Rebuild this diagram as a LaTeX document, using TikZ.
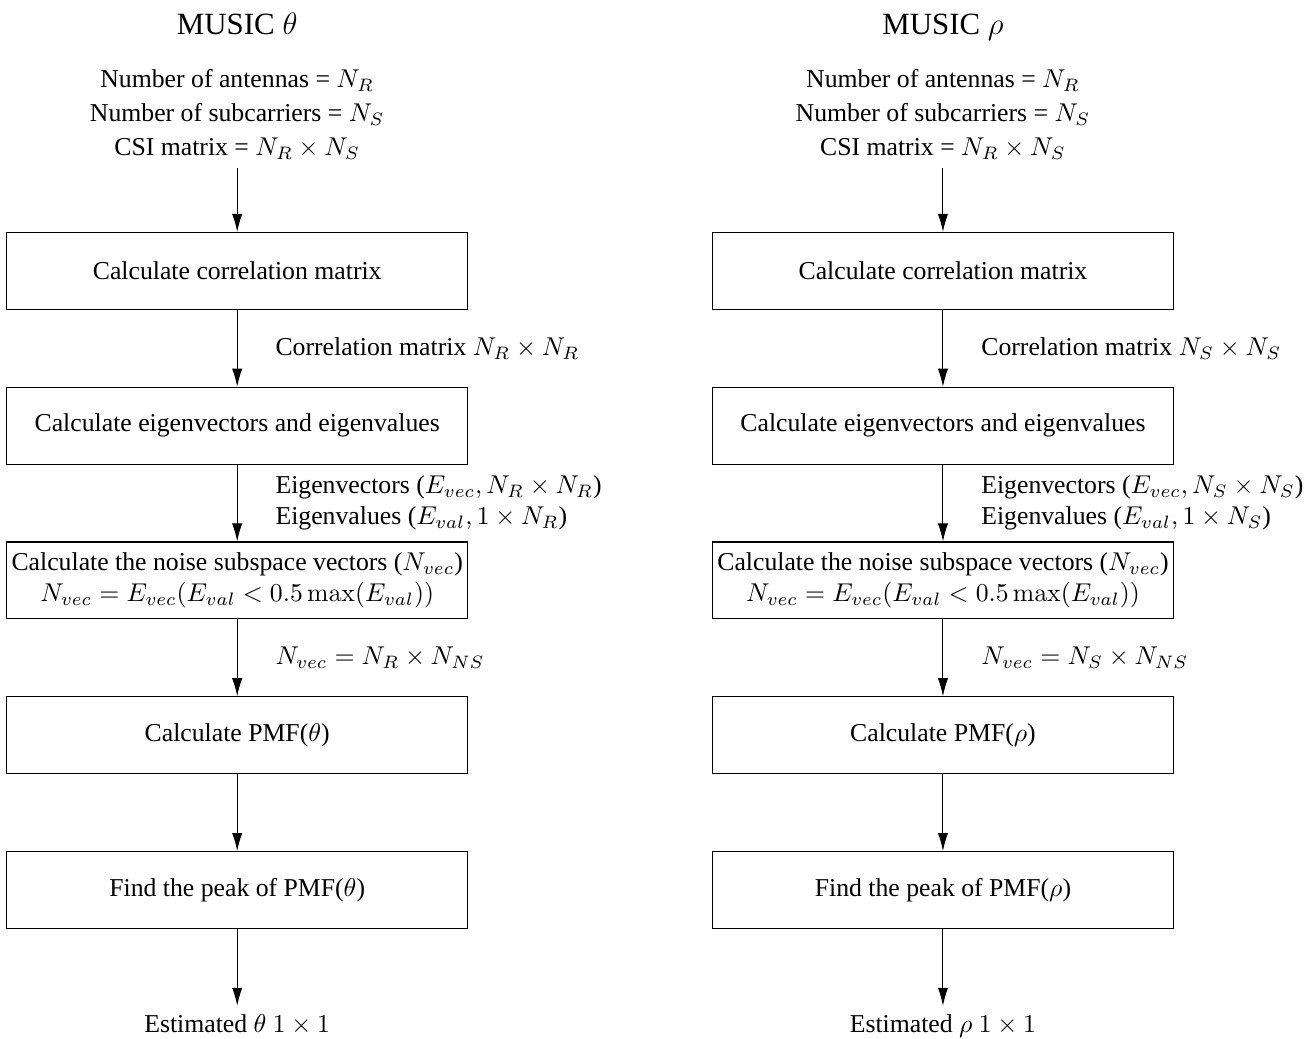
\documentclass[tikz,border=0pt]{standalone}
\usepackage[no-math]{fontspec}
\setmainfont{Liberation Serif}
\usepackage{amsmath,amssymb}
\usetikzlibrary{arrows.meta, positioning}

\begin{document}
\begin{tikzpicture}[
    box/.style={rectangle, draw=black, fill=white, minimum width=6.3cm,
                minimum height=1.05cm, align=center, font=\normalsize},
    arrow/.style={-{Latex[length=7pt,width=4pt]}},
    lbl/.style={right=0.4cm, align=left},
    title/.style={font=\large, anchor=base},
    node distance=1.05cm
]
    \useasboundingbox (0,0) rectangle (17.88,-14.18);

    % Left column: MUSIC theta
    \node[title] (lt) at (3.24,-0.47) {MUSIC $\theta$};
    \node[align=center] (lin) at (3.24,-1.56) {Number of antennas = $N_R$\\[1.2pt]
        Number of subcarriers = $N_S$\\[1.2pt] CSI matrix = $N_R \times N_S$};
    \node[box] (l1) at (3.24,-3.70) {Calculate correlation matrix};
    \node[box, below=of l1] (l2) {Calculate eigenvectors and eigenvalues};
    \node[box, below=of l2, inner sep=1pt] (l3) {Calculate the noise subspace vectors ($N_{vec}$)\\
        $N_{vec} = E_{vec}(E_{val} < 0.5\max(E_{val}))$};
    \node[box, below=of l3] (l4) {Calculate PMF($\theta$)};
    \node[box, below=of l4] (l5) {Find the peak of PMF($\theta$)};
    \node[below=of l5] (lout) {Estimated $\theta$ $1 \times 1$};

    \draw[arrow] (lin) -- (l1);
    \draw[arrow] (l1) -- node[lbl] {Correlation matrix $N_R \times N_R$} (l2);
    \draw[arrow] (l2) -- node[lbl] {Eigenvectors ($E_{vec}, N_R \times N_R$)\\
        Eigenvalues ($E_{val}, 1 \times N_R$)} (l3);
    \draw[arrow] (l3) -- node[lbl] {$N_{vec} = N_R \times N_{NS}$} (l4);
    \draw[arrow] (l4) -- (l5);
    \draw[arrow] (l5) -- (lout);

    % Right column: MUSIC rho
    \node[title] (rt) at (12.88,-0.47) {MUSIC $\rho$};
    \node[align=center] (rin) at (12.88,-1.56) {Number of antennas = $N_R$\\[1.2pt]
        Number of subcarriers = $N_S$\\[1.2pt] CSI matrix = $N_R \times N_S$};
    \node[box] (r1) at (12.88,-3.70) {Calculate correlation matrix};
    \node[box, below=of r1] (r2) {Calculate eigenvectors and eigenvalues};
    \node[box, below=of r2, inner sep=1pt] (r3) {Calculate the noise subspace vectors ($N_{vec}$)\\
        $N_{vec} = E_{vec}(E_{val} < 0.5\max(E_{val}))$};
    \node[box, below=of r3] (r4) {Calculate PMF($\rho$)};
    \node[box, below=of r4] (r5) {Find the peak of PMF($\rho$)};
    \node[below=of r5] (rout) {Estimated $\rho$ $1 \times 1$};

    \draw[arrow] (rin) -- (r1);
    \draw[arrow] (r1) -- node[lbl] {Correlation matrix $N_S \times N_S$} (r2);
    \draw[arrow] (r2) -- node[lbl] {Eigenvectors ($E_{vec}, N_S \times N_S$)\\
        Eigenvalues ($E_{val}, 1 \times N_S$)} (r3);
    \draw[arrow] (r3) -- node[lbl] {$N_{vec} = N_S \times N_{NS}$} (r4);
    \draw[arrow] (r4) -- (r5);
    \draw[arrow] (r5) -- (rout);
\end{tikzpicture}
\end{document}
